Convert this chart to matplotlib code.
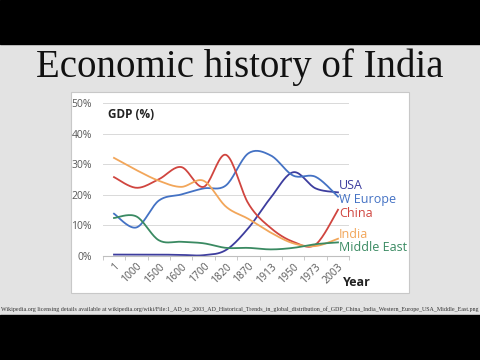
import numpy as np
import matplotlib
matplotlib.use('Agg')
import matplotlib.pyplot as plt
from matplotlib.patches import Rectangle

years = ['1', '1000', '1500', '1600', '1700', '1820', '1870', '1913', '1950', '1973', '2003']

china = [25.7, 22.2, 25.0, 29.0, 22.5, 33.0, 17.0, 9.0, 4.5, 3.6, 15.0]
india = [32.0, 28.0, 24.5, 22.5, 24.5, 16.0, 12.0, 7.5, 4.0, 3.1, 5.5]
w_europe = [13.7, 9.2, 18.0, 20.0, 22.0, 23.0, 33.5, 32.8, 26.2, 25.8, 19.3]
usa = [0.3, 0.3, 0.3, 0.2, 0.1, 1.8, 9.0, 19.0, 27.3, 22.0, 20.7]
middle_east = [12.3, 12.8, 5.0, 4.5, 4.0, 2.5, 2.5, 2.0, 2.5, 3.7, 4.3]

series = [
    ('USA', usa, '#3d3d9e', 22.8),
    ('W Europe', w_europe, '#4472c4', 18.3),
    ('China', china, '#d0453f', 13.9),
    ('India', india, '#f2a65a', 7.0),
    ('Middle East', middle_east, '#3a8a62', 2.6),
]


def smooth(x, y, n=20):
    # catmull-rom style bezier, roughly what excel does for smoothed lines
    x = np.asarray(x, float)
    y = np.asarray(y, float)
    xs, ys = [], []
    for i in range(len(x) - 1):
        p0 = np.array([x[max(i - 1, 0)], y[max(i - 1, 0)]])
        p1 = np.array([x[i], y[i]])
        p2 = np.array([x[i + 1], y[i + 1]])
        p3 = np.array([x[min(i + 2, len(x) - 1)], y[min(i + 2, len(x) - 1)]])
        c1 = p1 + (p2 - p0) / 6
        c2 = p2 - (p3 - p1) / 6
        t = np.linspace(0, 1, n)[:, None]
        b = (1 - t) ** 3 * p1 + 3 * (1 - t) ** 2 * t * c1 + 3 * (1 - t) * t ** 2 * c2 + t ** 3 * p2
        xs.extend(b[:, 0])
        ys.extend(b[:, 1])
    return xs, ys


W, H = 480, 360
fig = plt.figure(figsize=(4.8, 3.6), dpi=100, facecolor='#e3e3e3')

# video letterbox bands
fig.patches.append(Rectangle((0, 1 - 44 / H), 1, 44 / H, transform=fig.transFigure, color='black', zorder=-2))
fig.patches.append(Rectangle((0, 0), 1, 45 / H, transform=fig.transFigure, color='black', zorder=-2))
# white chart card
fig.patches.append(Rectangle((71 / W, 1 - 293 / H), 338 / W, 201 / H, transform=fig.transFigure,
                             facecolor='white', edgecolor='#c8c8c8', lw=0.8, zorder=-1))

fig.text(0.5, 1 - 67 / H, 'Economic history of India', ha='center', va='center',
         family='Liberation Serif', fontsize=28, color='#111111')

ax = fig.add_axes([102.8 / W, 1 - 255.5 / H, 246.4 / W, 152.5 / H])
ax.set_zorder(2)
ax.set_facecolor('none')
x = np.arange(len(years))
for name, vals, col, ly in series:
    sx, sy = smooth(x, vals)
    ax.plot(sx, sy, color=col, lw=1.3)
    ax.text(10.05, ly, name, color=col, fontsize=9, family='Open Sans', va='center', ha='left', clip_on=False)

ax.set_xlim(-0.5, 10.5)
ax.set_ylim(0, 50)
ax.set_yticks([0, 10, 20, 30, 40, 50])
ax.set_yticklabels(['0%', '10%', '20%', '30%', '40%', '50%'], family='Open Sans', fontsize=7.5, color='#595959')
ax.set_xticks(x)
ax.set_xticklabels(years, rotation=45, ha='right', rotation_mode='anchor', family='Open Sans',
                   fontsize=7.5, color='#595959')
ax.set_xticks(np.arange(-0.5, 11, 1), minor=True)
ax.tick_params(axis='x', which='major', length=0, pad=4)
ax.tick_params(axis='x', which='minor', length=3, color='#bfbfbf')
ax.tick_params(axis='y', length=0, pad=8)
ax.grid(axis='y', color='#d9d9d9', lw=0.7)
ax.set_axisbelow(True)
for s in ['top', 'right', 'left']:
    ax.spines[s].set_visible(False)
ax.spines['bottom'].set_color('#bfbfbf')

ax.text(0.02, 0.9, 'GDP (%)', transform=ax.transAxes, fontsize=8.5, weight='bold', family='Open Sans', color='#222222')
fig.text(357 / W, 1 - 282 / H, 'Year', ha='center', va='center', fontsize=9, weight='bold',
         family='Open Sans', color='#222222')

fig.text(0.002, 1 - 309 / H,
         'Wikipedia.org licensing details available at wikipedia.org/wiki/File:1_AD_to_2003_AD_Historical_Trends_in_global_distribution_of_GDP_China_India_Western_Europe_USA_Middle_East.png',
         ha='left', va='center', fontsize=4.3, family='Liberation Serif', color='#333333')

fig.savefig('out.png', dpi=100, facecolor=fig.get_facecolor())
